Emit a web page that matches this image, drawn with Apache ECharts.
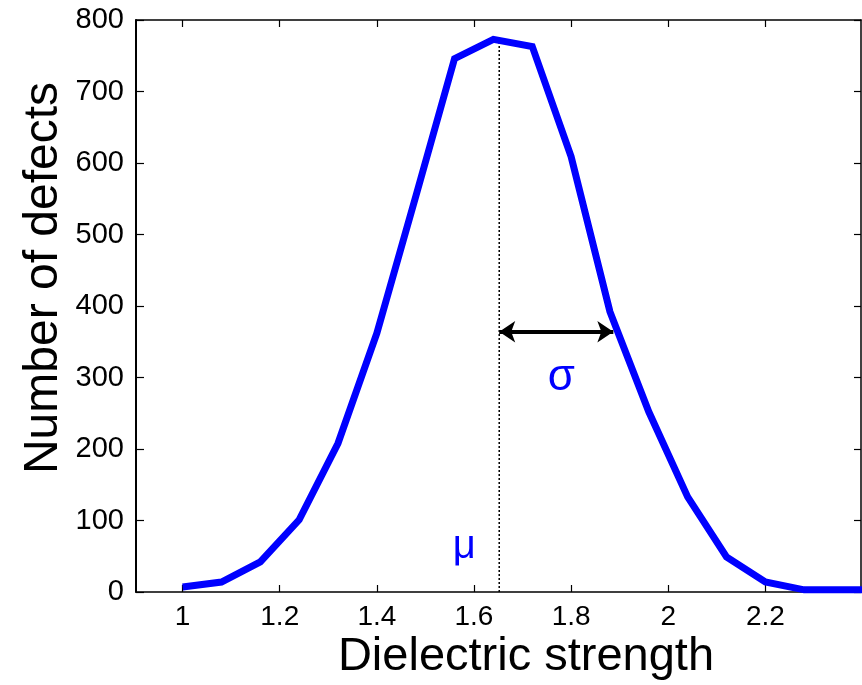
<!DOCTYPE html>
<html>
<head>
<meta charset="utf-8">
<script src="https://cdn.jsdelivr.net/npm/echarts@6/dist/echarts.min.js"></script>
<style>
  html, body { margin: 0; padding: 0; background: #fff; }
  #chart { width: 862px; height: 685px; }
</style>
</head>
<body>
<div id="chart"></div>
<script>
// Dielectric strength bins and defect counts per bin
const strength = [1, 1.08, 1.16, 1.24, 1.32, 1.4, 1.48, 1.56, 1.64, 1.72, 1.8, 1.88, 1.96, 2.04, 2.12, 2.2, 2.28, 2.36, 2.44];
const defects = [7, 14, 42, 101, 208, 362, 553, 746, 773, 763, 609, 392, 252, 133, 49, 14, 3, 3, 3];

// Tick labels
const xTicks = [1, 1.2, 1.4, 1.6, 1.8, 2, 2.2];
const yTicks = [0, 100, 200, 300, 400, 500, 600, 700, 800];

// Mean and one-sigma annotation
const mu = 1.652;
const muPeak = 772;
const sigmaEnd = 1.887;
const sigmaLevel = 364;
const muLabel = [1.58, 63];
const sigmaLabel = [1.78, 300];

const xMin = 0.904, xMax = 2.397;
const FONT = '"Liberation Sans", Arial, sans-serif';

const chart = echarts.init(document.getElementById('chart'), null, { renderer: 'canvas' });

const lineStyleAxis = { color: '#000', width: 1.5 };
const tickStyle = { color: '#000', width: 1.2 };

chart.setOption({
  animation: false,
  backgroundColor: '#fff',
  grid: { left: 136, right: 1, top: 20, bottom: 93 },
  xAxis: [
    {
      type: 'value', min: xMin, max: xMax, position: 'bottom',
      axisLine: { show: true, onZero: false, lineStyle: lineStyleAxis },
      axisTick: { show: true, inside: true, length: 7, customValues: xTicks, lineStyle: tickStyle },
      axisLabel: { show: true, customValues: xTicks, fontSize: 28, color: '#000', fontFamily: FONT, margin: 11 },
      splitLine: { show: false }
    },
    {
      type: 'value', min: xMin, max: xMax, position: 'top',
      axisLine: { show: true, onZero: false, lineStyle: lineStyleAxis },
      axisTick: { show: true, inside: true, length: 7, customValues: xTicks, lineStyle: tickStyle },
      axisLabel: { show: false },
      splitLine: { show: false }
    }
  ],
  yAxis: [
    {
      type: 'value', min: 0, max: 800, interval: 100, position: 'left',
      axisLine: { show: true, onZero: false, lineStyle: { color: '#000', width: 2 } },
      axisTick: { show: true, inside: true, length: 8, customValues: yTicks, lineStyle: tickStyle },
      axisLabel: { show: true, customValues: yTicks, fontSize: 29, color: '#000', fontFamily: FONT, margin: 12 },
      splitLine: { show: false }
    },
    {
      type: 'value', min: 0, max: 800, interval: 100, position: 'right',
      axisLine: { show: true, onZero: false, lineStyle: lineStyleAxis },
      axisTick: { show: true, inside: true, length: 7, customValues: yTicks, lineStyle: tickStyle },
      axisLabel: { show: false },
      splitLine: { show: false }
    }
  ],
  series: [
    {
      name: 'defects',
      type: 'line',
      data: strength.map((s, i) => [s, defects[i]]),
      showSymbol: false,
      clip: true,
      lineStyle: { color: '#0000ff', width: 7, join: 'miter' },
      z: 3
    },
    {
      name: 'mean',
      type: 'line',
      data: [[mu, 0], [mu, muPeak]],
      showSymbol: false,
      lineStyle: { color: '#000', width: 1.5, type: [2, 2] },
      z: 2,
      markLine: {
        silent: true,
        symbol: ['arrow', 'arrow'],
        symbolSize: [16, 16],
        label: { show: false },
        lineStyle: { color: '#000', width: 4, type: 'solid' },
        data: [[{ coord: [mu, sigmaLevel] }, { coord: [sigmaEnd, sigmaLevel] }]]
      }
    },
    {
      name: 'labels',
      type: 'scatter',
      symbolSize: 0,
      itemStyle: { opacity: 1 },
      data: [
        { name: 'μ', value: muLabel, label: { fontSize: 40 } },
        { name: 'σ', value: sigmaLabel, label: { fontSize: 44 } }
      ],
      label: {
        show: true, position: 'inside', formatter: '{b}',
        color: '#0000ff', fontFamily: FONT, verticalAlign: 'middle', align: 'center'
      },
      z: 4
    }
  ],
  // Axis titles
  graphic: [
    {
      type: 'text', x: 526, y: 657,
      style: { text: 'Dielectric strength', font: '47px ' + FONT, fill: '#000', align: 'center', verticalAlign: 'middle' }
    },
    {
      type: 'text', x: 44, y: 278, rotation: Math.PI / 2,
      style: { text: 'Number of defects', font: '48px ' + FONT, fill: '#000', align: 'center', verticalAlign: 'middle' }
    }
  ]
});
</script>
</body>
</html>
